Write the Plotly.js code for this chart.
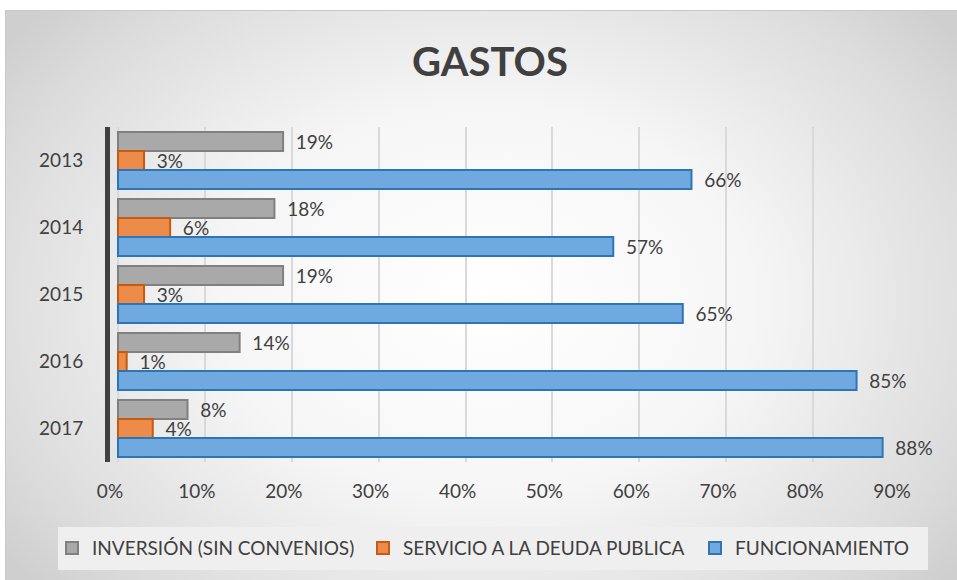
<!DOCTYPE html>
<html>
<head>
<meta charset="utf-8">
<script src="https://cdn.plot.ly/plotly-3.0.1.min.js"></script>
<style>
  html, body { margin: 0; padding: 0; background: #ffffff; }
  #wrap { position: relative; width: 957px; height: 580px; overflow: hidden; }
  #bg { position: absolute; left: 5px; top: 10px; width: 960px; height: 580px;
        border-top: 1px solid #c8c8c8; border-left: 1px solid #c8c8c8;
        background: radial-gradient(ellipse 62% 75% at 50% 50%, #ffffff 0%, #f6f6f6 45%, #dcdcdc 85%, #cfcfcf 100%); }
  #chart { position: absolute; left: 0; top: 0; width: 957px; height: 580px; }
</style>
</head>
<body>
<div id="wrap">
  <div id="bg"></div>
  <div id="chart"></div>
</div>
<script>
const years = ['2013', '2014', '2015', '2016', '2017'];
const inversion = [0.19, 0.18, 0.19, 0.14, 0.08];
const servicio = [0.03, 0.06, 0.03, 0.01, 0.04];
const funcionamiento = [0.66, 0.57, 0.65, 0.85, 0.88];
const seriesNames = ['INVERSIÓN (SIN CONVENIOS)', 'SERVICIO A LA DEUDA PUBLICA', 'FUNCIONAMIENTO'];
const xTicks = [0, 0.1, 0.2, 0.3, 0.4, 0.5, 0.6, 0.7, 0.8, 0.9];

const FONT = 'Lato, "Open Sans", sans-serif';
const textFont = {family: FONT, size: 19, color: '#404040'};

function barTrace(vals, name, fill, edge, legendId) {
  return {
    type: 'bar', orientation: 'h', y: years, x: vals, name: name, legend: legendId,
    marker: {color: fill, line: {color: edge, width: 2}},
    texttemplate: '  %{x:.0%}', textposition: 'outside', constraintext: 'none',
    cliponaxis: false, textfont: textFont, hoverinfo: 'x+name'
  };
}

const data = [
  barTrace(inversion, seriesNames[0], '#a9a9a9', '#808080', 'legend'),
  barTrace(servicio, seriesNames[1], '#ed8b4a', '#c55a11', 'legend2'),
  barTrace(funcionamiento, seriesNames[2], '#6fa9e0', '#2e75b6', 'legend3')
];

// plot area: x from 110 to 900 px (790 px wide), y from 127 to 462 px (335 px tall)
function legendAt(px) {
  return {
    orientation: 'h', x: (px - 110) / 790, xanchor: 'left', xref: 'paper',
    y: -0.257, yanchor: 'middle', yref: 'paper',
    bgcolor: 'rgba(0,0,0,0)', borderwidth: 0,
    font: {family: FONT, size: 19, color: '#404040'}
  };
}

const layout = {
  width: 957, height: 580,
  paper_bgcolor: 'rgba(0,0,0,0)', plot_bgcolor: 'rgba(0,0,0,0)',
  margin: {l: 110, r: 57, t: 127, b: 118},
  barmode: 'group', bargap: 0.15, bargroupgap: 0,
  font: {family: FONT, color: '#404040'},
  title: {text: '<b>GASTOS</b>', font: {family: FONT, size: 40, color: '#404040'},
          x: 0.512, xref: 'container', xanchor: 'center', y: 0.893, yref: 'container', yanchor: 'middle'},
  xaxis: {
    range: [-0.0092, 0.9], tickvals: xTicks, tickformat: '.0%',
    showgrid: true, gridcolor: '#d9d9d9', gridwidth: 2,
    zeroline: false, showline: false, ticks: '',
    ticklabelstandoff: 16, ticklabelshift: -8,
    tickfont: {family: FONT, size: 19, color: '#404040'}
  },
  yaxis: {
    autorange: 'reversed', type: 'category',
    showline: true, linecolor: '#404040', linewidth: 5,
    showgrid: false, zeroline: false, ticks: '',
    ticklabelstandoff: 18,
    tickfont: {family: FONT, size: 19, color: '#404040'}
  },
  shapes: [{
    type: 'rect', xref: 'paper', yref: 'paper', layer: 'below',
    x0: (58 - 110) / 790, x1: (928 - 110) / 790, y0: (462 - 527) / 335, y1: (462 - 570) / 335,
    fillcolor: '#efefef', line: {width: 0}
  }],
  showlegend: true,
  legend: legendAt(52),
  legend2: legendAt(363),
  legend3: legendAt(695)
};

Plotly.newPlot('chart', data, layout, {displayModeBar: false, responsive: false});
</script>
</body>
</html>
